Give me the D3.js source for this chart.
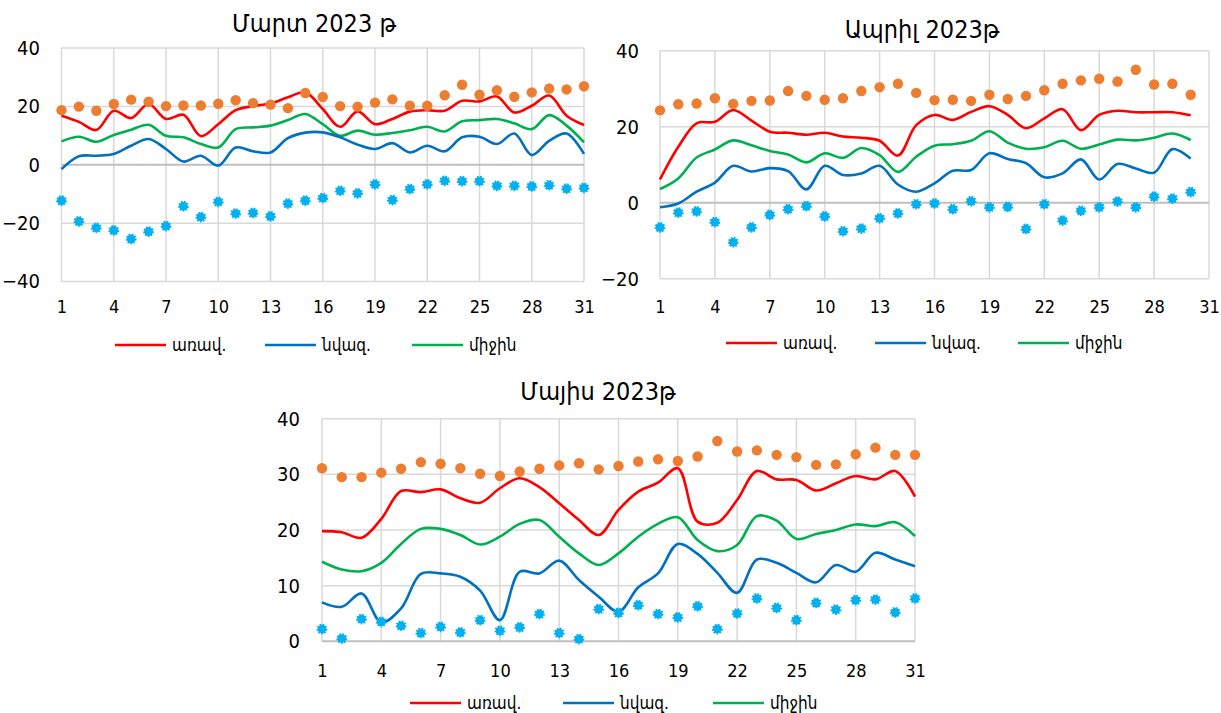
<!DOCTYPE html>
<html><head><meta charset="utf-8">
<script src="https://cdn.jsdelivr.net/npm/d3@7"></script>
<style>
html,body{margin:0;padding:0;background:#fff;}
svg{display:block;}
text{font-family:"DejaVu Sans Condensed","DejaVu Sans",sans-serif;fill:#000;}
</style></head>
<body>
<svg id="chart" width="1221" height="713"></svg>
<script>
// ---------- DATA ----------
const seriesNames = ["առավ.", "նվազ.", "միջին"];
const titles = ["Մարտ 2023 թ", "Ապրիլ 2023թ", "Մայիս 2023թ"];
const xTicks = [1,4,7,10,13,16,19,22,25,28,31];
const marchYTicks = [-40,-20,0,20,40];
const aprilYTicks = [-20,0,20,40];
const mayYTicks = [0,10,20,30,40];

const marchMax = [16.8,14.7,11.9,18.5,16.0,20.8,15.7,17.1,9.8,13.9,18.7,20.1,21.0,23.1,24.8,19.1,13.0,18.3,13.9,15.7,18.2,18.7,18.5,21.9,21.7,23.4,17.9,20.2,23.7,16.8,13.6];
const marchMin = [-1.5,2.9,3.1,3.7,6.5,8.8,5.4,1.1,3.1,-0.3,5.9,4.6,4.2,9.1,11.0,11.1,9.4,6.9,5.4,7.4,4.2,6.5,4.6,9.4,9.6,7.1,10.7,3.3,8.2,10.7,3.7];
const marchAvg = [8.0,9.6,7.9,10.2,12.0,13.7,9.9,9.4,7.1,5.9,12.2,12.8,13.4,15.3,17.4,13.9,9.9,11.7,10.3,10.9,11.8,13.0,11.4,14.9,15.3,15.7,14.2,12.2,17.0,13.4,7.7];
const marchRecMax = [18.7,19.9,18.5,20.8,22.3,21.6,20.1,20.3,20.3,20.9,22.1,21.1,20.6,19.4,24.6,23.2,20.1,19.9,21.3,22.4,20.2,20.2,23.8,27.4,24.0,25.5,23.3,24.8,26.1,25.8,26.9];
const marchRecMin = [-12.3,-19.4,-21.6,-22.5,-25.4,-22.9,-21.0,-14.2,-17.9,-12.7,-16.7,-16.5,-17.7,-13.3,-12.3,-11.4,-8.9,-9.8,-6.7,-12.1,-8.3,-6.7,-5.5,-5.6,-5.6,-7.2,-7.2,-7.4,-7.0,-8.2,-7.9];

const aprilMax = [6.1,14.7,20.9,21.3,24.4,21.6,18.7,18.4,17.9,18.4,17.4,17.1,16.3,12.4,20.4,23.1,21.8,23.9,25.4,23.1,19.6,22.2,24.6,19.1,23.1,24.2,23.8,23.8,23.8,23.0];
const aprilMin = [-1.2,-0.2,2.9,5.3,9.7,8.2,9.1,8.3,3.5,9.7,7.3,7.7,9.7,4.8,2.9,5.1,8.4,8.6,13.0,11.5,10.4,6.7,7.7,11.4,6.1,10.2,9.0,7.9,14.1,11.6];
const aprilAvg = [3.6,6.4,11.9,14.0,16.4,15.1,13.6,12.7,10.6,13.0,11.8,14.4,12.5,8.1,12.1,15.0,15.4,16.3,18.8,15.8,14.2,14.6,16.3,14.2,15.3,16.6,16.4,17.1,18.2,16.5];
const aprilRecMax = [24.3,25.9,26.1,27.5,26.0,26.8,26.9,29.4,28.1,27.1,27.5,29.4,30.4,31.3,28.9,27.0,27.1,26.8,28.4,27.3,28.1,29.6,31.3,32.2,32.6,31.9,35.0,31.1,31.3,28.4];
const aprilRecMin = [-6.5,-2.6,-2.3,-5.1,-10.4,-6.5,-3.2,-1.7,-0.9,-3.6,-7.5,-6.8,-4.1,-2.8,-0.4,-0.2,-1.7,0.4,-1.2,-1.1,-6.9,-0.4,-4.7,-2.1,-1.2,0.3,-1.2,1.6,1.1,2.8];

const mayMax = [19.8,19.6,18.6,22.0,27.0,26.8,27.3,25.7,24.9,27.5,29.3,27.7,24.8,21.8,19.1,23.6,26.9,28.5,31.1,21.5,21.3,25.4,30.6,29.1,29.0,27.1,28.4,29.7,29.1,30.6,26.0];
const mayMin = [7.0,6.2,8.6,3.4,5.9,12.1,12.2,11.6,9.1,3.8,12.5,12.2,14.5,11.0,8.0,5.3,9.7,12.2,17.5,15.7,12.3,8.7,14.7,14.1,12.3,10.6,13.7,12.5,15.9,14.7,13.5];
const mayAvg = [14.3,12.9,12.6,14.1,17.5,20.2,20.2,19.1,17.4,18.8,21.1,21.8,18.8,15.8,13.7,15.8,18.8,21.1,22.3,18.2,16.2,17.3,22.5,21.7,18.4,19.3,20.0,21.0,20.7,21.4,18.9];
const mayRecMax = [31.1,29.5,29.5,30.3,31.0,32.2,31.9,31.1,30.1,29.7,30.5,31.0,31.6,32.0,30.9,31.5,32.3,32.7,32.4,33.2,36.0,34.1,34.3,33.5,33.1,31.7,31.8,33.6,34.8,33.5,33.5];
const mayRecMin = [2.2,0.5,4.0,3.5,2.8,1.5,2.6,1.6,3.8,1.9,2.5,4.9,1.5,0.4,5.8,5.1,6.5,4.9,4.3,6.3,2.2,5.0,7.7,6.0,3.8,6.9,5.7,7.4,7.5,5.2,7.7];

// ---------- STYLE ----------
const colMax = "#ff0000", colMin = "#0070c0", colAvg = "#00b050";
const colRecMax = "#ed7d31", colRecMin = "#00b0f0";

const svg = d3.select("#chart");

function panel(cfg) {
  const g = svg.append("g");
  const x = d3.scaleLinear().domain([1,31]).range([cfg.x0, cfg.x1]);
  const y = d3.scaleLinear().domain([cfg.yTicks[0], cfg.yTicks[cfg.yTicks.length-1]]).range([cfg.yb, cfg.yt]);

  // gridlines
  g.append("g").selectAll("line").data(xTicks).join("line")
    .attr("x1", d => x(d)).attr("x2", d => x(d))
    .attr("y1", y.range()[1]).attr("y2", y.range()[0])
    .attr("stroke", "#d9d9d9").attr("stroke-width", 1.5);
  g.append("g").selectAll("line").data(cfg.yTicks).join("line")
    .attr("x1", x(1)).attr("x2", x(31))
    .attr("y1", d => y(d)).attr("y2", d => y(d))
    .attr("stroke", d => d === 0 ? "#bfbfbf" : "#d9d9d9").attr("stroke-width", d => d === 0 ? 2 : 1.5);

  // axes labels via d3 axes
  const ax = d3.axisBottom(x).tickValues(xTicks).tickSize(0).tickPadding(0);
  const axg = g.append("g").attr("transform", `translate(0,${cfg.xLabY})`).call(ax);
  axg.select(".domain").remove();
  axg.selectAll("text").attr("dy", "0.35em").attr("font-size", 18).style("font-family", '"DejaVu Sans Condensed"');

  const ay = d3.axisLeft(y).tickValues(cfg.yTicks).tickSize(0).tickPadding(0);
  const ayg = g.append("g").attr("transform", `translate(${cfg.yLabX},0)`).call(ay);
  ayg.select(".domain").remove();
  ayg.selectAll("text").attr("font-size", 20).style("font-family", '"DejaVu Sans Condensed"');

  // title
  g.append("text").attr("x", cfg.tx).attr("y", cfg.ty).attr("text-anchor", "middle")
    .attr("dominant-baseline", "central").attr("font-size", 25).text(cfg.title);

  const line = d3.line().x((d,i) => x(i+1)).y(d => y(d)).curve(d3.curveCatmullRom.alpha(0.5));
  [[cfg.avg, colAvg],[cfg.min, colMin],[cfg.max, colMax]].forEach(([arr,c]) => {
    g.append("path").datum(arr).attr("d", line).attr("fill", "none")
      .attr("stroke", c).attr("stroke-width", 2.6).attr("stroke-linejoin", "round");
  });
  // record max: orange dots
  g.append("g").selectAll("circle").data(cfg.recMax).join("circle")
    .attr("cx", (d,i) => x(i+1)).attr("cy", d => y(d)).attr("r", 5.2).attr("fill", colRecMax);
  // record min: serrated blue dots
  g.append("g").selectAll("circle").data(cfg.recMin).join("circle")
    .attr("cx", (d,i) => x(i+1)).attr("cy", d => y(d)).attr("r", 4.3).attr("fill", colRecMin)
    .attr("stroke", colRecMin).attr("stroke-width", 2.2).attr("stroke-dasharray", "1.6,1.3");

  // legend
  const cols = [colMax, colMin, colAvg];
  cfg.leg.forEach((lx, i) => {
    g.append("line").attr("x1", lx).attr("x2", lx + 51).attr("y1", cfg.legY).attr("y2", cfg.legY)
      .attr("stroke", cols[i]).attr("stroke-width", 2.6);
    g.append("text").attr("x", lx + 57).attr("y", cfg.legY).attr("dominant-baseline", "central")
      .attr("font-size", 17).text(seriesNames[i]);
  });
}

panel({title: titles[0], tx: 314, ty: 23, x0: 61.5, x1: 584, yt: 48, yb: 281.5, yTicks: marchYTicks,
  xLabY: 307, yLabX: 40, legY: 345, leg: [115, 265, 412],
  max: marchMax, min: marchMin, avg: marchAvg, recMax: marchRecMax, recMin: marchRecMin});
panel({title: titles[1], tx: 922, ty: 29, x0: 660, x1: 1209, yt: 50.7, yb: 278.7, yTicks: aprilYTicks,
  xLabY: 307, yLabX: 639, legY: 343, leg: [726, 875, 1018],
  max: aprilMax, min: aprilMin, avg: aprilAvg, recMax: aprilRecMax, recMin: aprilRecMin});
panel({title: titles[2], tx: 598, ty: 391, x0: 322, x1: 915, yt: 418.7, yb: 641.3, yTicks: mayYTicks,
  xLabY: 671, yLabX: 300, legY: 703, leg: [410, 563, 713],
  max: mayMax, min: mayMin, avg: mayAvg, recMax: mayRecMax, recMin: mayRecMin});
</script>
</body></html>
